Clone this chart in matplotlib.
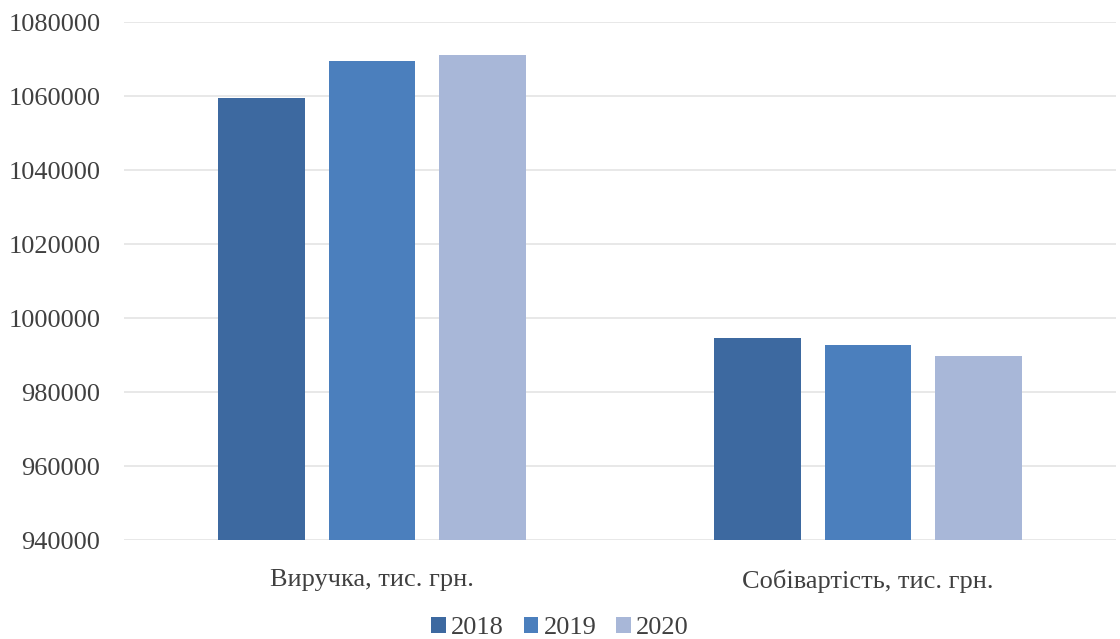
import matplotlib
matplotlib.use("Agg")
import matplotlib.pyplot as plt
import numpy as np

categories = ["Виручка, тис. грн.", "Собівартість, тис. грн."]
years = ["2018", "2019", "2020"]
values_2018 = [1059500, 994700]
values_2019 = [1069500, 992600]
values_2020 = [1071000, 989700]
colors = ["#3d69a0", "#4b7fbd", "#a8b7d8"]

plt.rcParams["font.family"] = ["Liberation Serif", "DejaVu Serif"]

fig = plt.figure(figsize=(11.2, 6.39), dpi=100)
ax = fig.add_axes([124 / 1120, 1 - 540 / 639, 992 / 1120, 518 / 639])

x = np.arange(len(categories))
width = 0.175
step = 0.222
for i, (vals, year) in enumerate(zip([values_2018, values_2019, values_2020], years)):
    ax.bar(x + (i - 1) * step, np.array(vals) - 940000, width, bottom=940000,
           color=colors[i], label=year, zorder=3)

ax.set_xlim(-0.5, 1.5)
ax.set_ylim(940000, 1080000)
ax.set_yticks(np.arange(940000, 1080001, 20000))
ax.set_yticklabels([str(v) for v in range(940000, 1080001, 20000)])
ax.set_xticks(x)
ax.set_xticklabels(categories)
ax.tick_params(axis="y", length=0, pad=17, labelsize=19, labelcolor="#404040")
ax.tick_params(axis="x", length=0, pad=21, labelsize=19, labelcolor="#404040")
ax.grid(axis="y", color="#e4e4e4", linewidth=1.2, zorder=0)
for s in ax.spines.values():
    s.set_visible(False)

fig.legend(loc="center", bbox_to_anchor=(0.5, 1 - 628 / 639), ncol=3, frameon=False,
           fontsize=19, handlelength=0.55, handleheight=0.55, handletextpad=0.2,
           columnspacing=0.75, labelcolor="#404040")

fig.savefig("out.png", dpi=100)
